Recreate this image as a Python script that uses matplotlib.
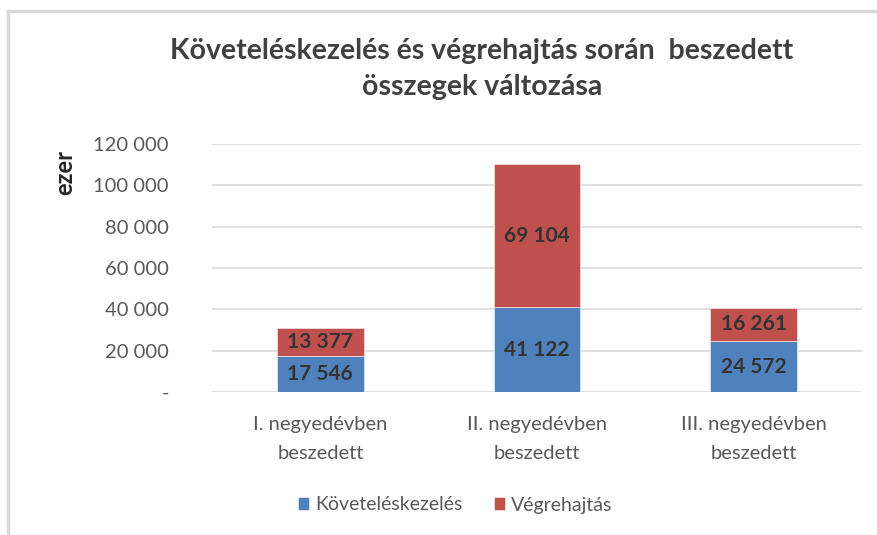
import matplotlib
matplotlib.use("Agg")
import matplotlib.pyplot as plt
from matplotlib.lines import Line2D
from matplotlib.ticker import FuncFormatter

categories = ["I. negyedévben\nbeszedett", "II. negyedévben\nbeszedett", "III. negyedévben\nbeszedett"]
kovetel = [17546, 41122, 24572]
vegreh = [13377, 69104, 16261]
series_names = ["Követeléskezelés", "Végrehajtás"]
title = "Követeléskezelés és végrehajtás során  beszedett\nösszegek változása"

plt.rcParams['font.family'] = ['Lato', 'DejaVu Sans']

fig = plt.figure(figsize=(8.77, 5.35), dpi=100)
ax = fig.add_axes([212/877, 1-392/535, 650/877, 248/535])

def fmt(v):
    return f"{int(round(v)):,}".replace(",", " ")

x = list(range(len(categories)))
blue = "#4F81BD"
red = "#C0504D"
b1 = ax.bar(x, kovetel, width=0.4, color=blue, edgecolor="#dce6f2", linewidth=0.6, label=series_names[0], zorder=3)
b2 = ax.bar(x, vegreh, width=0.4, bottom=kovetel, color=red, edgecolor="#f2dcdb", linewidth=0.6, label=series_names[1], zorder=3)

for i in x:
    ax.text(i, kovetel[i]/2, fmt(kovetel[i]), ha="center", va="center", fontsize=15, fontweight="bold", color="#333333", zorder=4)
    ax.text(i, kovetel[i] + vegreh[i]/2, fmt(vegreh[i]), ha="center", va="center", fontsize=15, fontweight="bold", color="#333333", zorder=4)

ax.set_xlim(-0.5, 2.5)
ax.set_ylim(0, 120000)
ax.set_yticks(range(0, 120001, 20000))
ax.yaxis.set_major_formatter(FuncFormatter(lambda v, p: "-" if v == 0 else fmt(v)))
ax.set_xticks(x)
ax.set_xticklabels(categories, fontsize=14.5, color="#595959", linespacing=1.85)
ax.tick_params(axis="y", labelsize=14.5, labelcolor="#595959", length=0, pad=31)
ax.tick_params(axis="x", length=0, pad=17)
ax.grid(axis="y", color="#d9d9d9", linewidth=1.2, zorder=0)
for s in ax.spines.values():
    s.set_visible(False)

fig.text(65/877, 1-172/535, "ezer", rotation=90, ha="center", va="center", fontsize=17, fontweight="bold", color="#262626")
fig.text(482/877, 1-69/535, title, ha="center", va="center", fontsize=20.5, fontweight="bold", color="#404040", linespacing=1.45)

leg = fig.legend(handles=[b1, b2], labels=series_names, loc="center", bbox_to_anchor=(455/877, 1-505/535), ncol=2,
                 frameon=False, fontsize=14, handlelength=0.6, handleheight=0.6, handletextpad=0.3, columnspacing=1.6)
for t in leg.get_texts():
    t.set_color("#595959")

fig.add_artist(Line2D([8/877, 1], [1-11/535, 1-11/535], color="#d9d9d9", linewidth=2.5))
fig.add_artist(Line2D([8/877, 8/877], [0, 1-11/535], color="#d9d9d9", linewidth=2.5))

fig.savefig("out.png", dpi=100)
